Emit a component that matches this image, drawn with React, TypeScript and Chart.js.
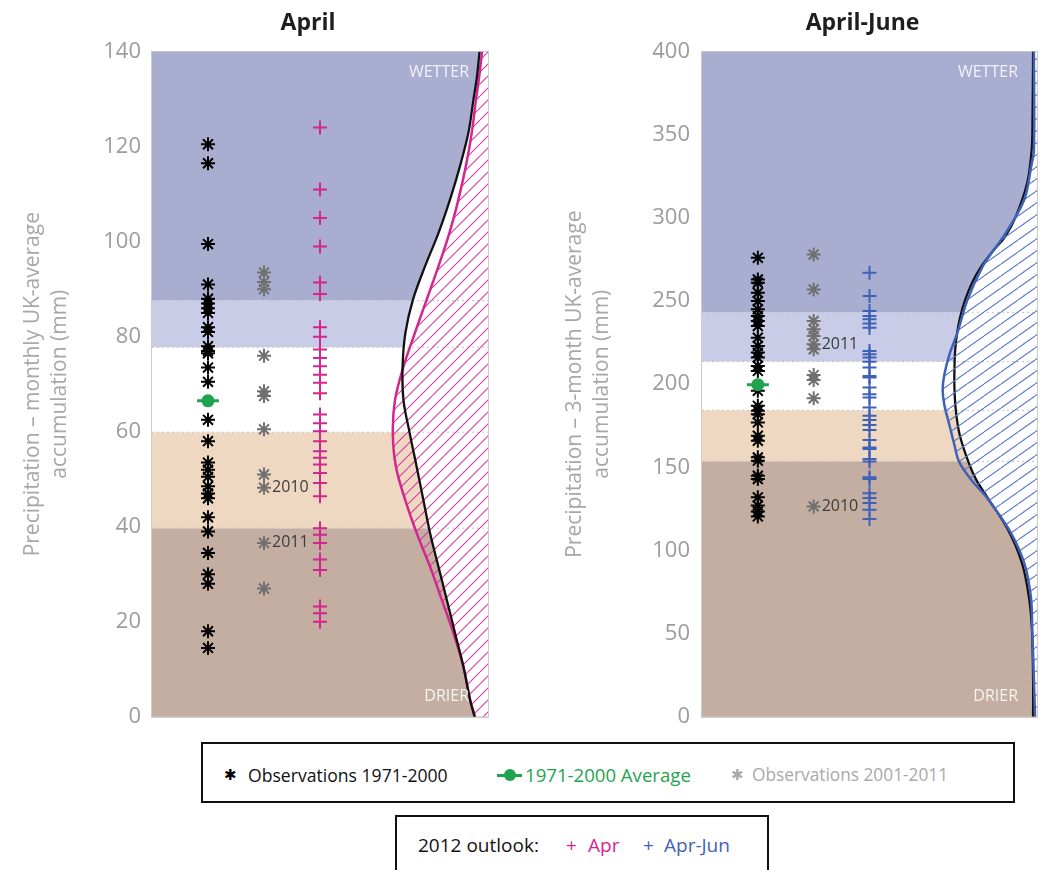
import React, { useEffect, useRef } from 'react';
import { Chart, registerables } from 'chart.js';
Chart.register(...registerables);

const FONT = "'Open Sans', 'DejaVu Sans', sans-serif";
Chart.defaults.font.family = FONT;

// hidden x scale: column positions
const COL_OBS = 2;
const COL_RECENT = 4;
const COL_OUTLOOK = 6;
const X_MAX = 12;

// ---------- April ----------
const aprObs = [120.5, 116.5, 99.5, 91, 88, 87, 86, 85, 82, 81, 78, 77, 76.5, 73.5, 70.5, 62.5, 58, 53.5, 52, 50.5, 48.5, 47, 46, 42, 39, 34.5, 30, 28, 18, 14.5];
const aprAvg = 66.5;
const aprRecent = [93.5, 91.5, 90, 76, 68.5, 67.5, 60.5, 51, 48.2, 36.6, 27];
const aprLabelYears = ['2010', '2011'];
const aprLabelValues = [48.2, 36.6];
const aprOutlook = [124, 111, 105, 99, 91.4, 89, 82, 80, 77.3, 75.5, 73.8, 72, 70.3, 68.1, 63.6, 61.8, 60.1, 58, 55.9, 54.5, 53.1, 51.3, 49.2, 46.4, 39.7, 38.3, 36.6, 33.1, 30.9, 23.2, 21.8, 20];
const aprBandEdges = [0, 39.7, 59.9, 77.8, 87.6, 140];
const aprClimMm = [0, 3.6, 10.6, 17.7, 24.6, 31.6, 38.7, 45.7, 52.7, 59.8, 66.7, 73.7, 80.8, 87.8, 94.8, 101.8, 108.8, 115.9, 122.9, 129.9, 134.5, 140];
const aprClimX = [11.52, 11.36, 11.12, 10.82, 10.53, 10.23, 9.93, 9.69, 9.45, 9.2, 8.98, 8.95, 9.05, 9.32, 9.75, 10.23, 10.64, 11.0, 11.3, 11.48, 11.6, 11.7];
const aprFcstMm = [0, 3.6, 10.6, 17.7, 24.6, 31.6, 38.7, 45.7, 52.7, 59.8, 66.7, 73.7, 80.8, 87.8, 94.8, 101.8, 108.8, 115.9, 122.9, 129.9, 134.5, 140];
const aprFcstX = [11.54, 11.36, 11.12, 10.76, 10.35, 9.93, 9.45, 9.04, 8.71, 8.6, 8.68, 8.98, 9.39, 9.81, 10.23, 10.62, 10.94, 11.21, 11.42, 11.57, 11.68, 11.79];

// ---------- April-June ----------
const jjaObs = [276, 263, 261, 255, 250, 245, 241, 238, 235, 228, 223, 219, 216, 211, 208, 196, 187, 184, 182, 177, 169, 166, 156, 154, 145, 143, 132, 127, 123.5, 120.5];
const jjaAvg = 199.7;
const jjaRecent = [278, 257, 238, 233, 229, 224, 221, 205.5, 202.5, 191.5, 126.5];
const jjaLabelYears = ['2011', '2010'];
const jjaLabelValues = [224, 126.5];
const jjaOutlook = [267, 253, 244, 241, 239, 236.5, 234, 220, 218, 216, 213.5, 210, 205, 204, 198, 194, 192, 186, 181, 178.5, 175.5, 172.5, 166.5, 162, 161, 155, 153.5, 144, 143, 134.5, 131.5, 128.5, 124.5, 119];
const jjaBandEdges = [0, 153.6, 184.3, 213.6, 243.2, 400];
const jjaClimMm = [0, 22.3, 52.3, 72.2, 92.6, 112.5, 132.3, 142.6, 153.4, 169.6, 184.7, 199.7, 213.5, 220.8, 231.0, 240.6, 250.8, 261.1, 270.7, 280.9, 288.7, 300.8, 321.2, 341.1, 359.1, 400];
const jjaClimX = [11.86, 11.86, 11.82, 11.71, 11.46, 10.96, 10.21, 9.82, 9.54, 9.23, 9.09, 9.04, 9.05, 9.07, 9.14, 9.25, 9.43, 9.68, 10.0, 10.46, 10.86, 11.24, 11.65, 11.81, 11.84, 11.86];
const jjaFcstMm = [0, 22.3, 52.3, 72.2, 92.6, 112.5, 132.3, 142.6, 153.4, 163.6, 175.6, 187.7, 196.7, 205.7, 217.7, 231.0, 250.8, 270.7, 280.9, 291.1, 310.9, 330.8, 341.1, 400];
const jjaFcstX = [11.93, 11.89, 11.83, 11.78, 11.54, 11.0, 10.18, 9.64, 9.21, 9.04, 8.86, 8.68, 8.62, 8.68, 8.86, 9.15, 9.51, 10.05, 10.46, 10.89, 11.54, 11.79, 11.89, 11.89];

const BAND_COLORS = ['#c3aea1', '#eed8c1', '#ffffff', '#c9cce7', '#a9aed1'];
const FRAME = '#cccccc';
const GREEN = '#1fa34f';
const MAGENTA = '#d3268f';
const BLUE = '#3f62b8';

type PanelCfg = {
  title: string;
  yTitle: string[];
  yMax: number;
  yStep: number;
  yAxisWidth: number;
  rightWidth: number;
  tickPad: number;
  bandEdges: number[];
  obs: number[];
  avg: number;
  recent: number[];
  outlook: number[];
  outlookColor: string;
  hatchColor: string;
  hatchW: number;
  hatchH: number;
  climMm: number[];
  climX: number[];
  fcstMm: number[];
  fcstX: number[];
  fcstOnTop: boolean;
  labelYears: string[];
  labelValues: number[];
};

function makeHatch(color: string, w: number, h: number) {
  const c = document.createElement('canvas');
  c.width = w;
  c.height = h;
  const g = c.getContext('2d')!;
  g.strokeStyle = color;
  g.lineWidth = 1.1;
  g.beginPath();
  g.moveTo(0, h); g.lineTo(w, 0);
  g.moveTo(-w, h); g.lineTo(0, 0);
  g.moveTo(w, h); g.lineTo(2 * w, 0);
  g.stroke();
  return g.createPattern(c, 'repeat')!;
}

const panelText = {
  id: 'panelText',
  afterDatasetsDraw(chart: any, _args: any, opts: any) {
    const { ctx, chartArea, scales } = chart;
    ctx.save();
    ctx.textBaseline = 'middle';
    ctx.textAlign = 'left';
    ctx.font = `16px ${FONT}`;
    ctx.fillStyle = '#3c3c3c';
    (opts.years as string[]).forEach((yr, i) => {
      const x = scales.x.getPixelForValue(COL_RECENT) + 8;
      const y = scales.y.getPixelForValue(opts.values[i]);
      ctx.fillText(yr, x, y);
    });
    ctx.fillStyle = 'rgba(255,255,255,0.85)';
    ctx.font = `16px ${FONT}`;
    ctx.textAlign = 'right';
    ctx.fillText('WETTER', chartArea.right - 19, chartArea.top + 21);
    ctx.fillText('DRIER', chartArea.right - 19, chartArea.bottom - 20);
    ctx.restore();
  },
};

function buildConfig(cfg: PanelCfg): any {
  const hatch = makeHatch(cfg.hatchColor, cfg.hatchW, cfg.hatchH);
  const datasets: any[] = [];
  for (let i = 0; i < cfg.bandEdges.length - 1; i++) {
    datasets.push({
      type: 'line',
      data: [{ x: 0, y: cfg.bandEdges[i] }, { x: X_MAX, y: cfg.bandEdges[i] }],
      fill: { value: cfg.bandEdges[i + 1] },
      backgroundColor: BAND_COLORS[i],
      borderColor: 'rgba(0,0,0,0)',
      borderWidth: 0,
      pointRadius: 0,
      order: 100 - i,
    });
  }
  const clim = cfg.climMm.map((m, i) => ({ x: cfg.climX[i], y: m }));
  const fcst = cfg.fcstMm.map((m, i) => ({ x: cfg.fcstX[i], y: m }));
  const curve = { type: 'line', indexAxis: 'y', pointRadius: 0, tension: 0.35 };
  datasets.push({
    ...curve, data: clim, fill: 'end',
    backgroundColor: '#ffffff', borderColor: 'rgba(0,0,0,0)', borderWidth: 0, order: 90,
  });
  for (let i = 1; i < cfg.bandEdges.length - 1; i++) {
    datasets.push({
      type: 'line',
      data: [{ x: 0, y: cfg.bandEdges[i] }, { x: X_MAX, y: cfg.bandEdges[i] }],
      fill: false, borderColor: '#c4c4c4', borderWidth: 1, borderDash: [2, 3],
      pointRadius: 0, order: 80,
    });
  }
  datasets.push({
    ...curve, data: fcst, fill: 'end',
    backgroundColor: hatch, borderColor: cfg.outlookColor, borderWidth: 2.5,
    order: cfg.fcstOnTop ? 55 : 70,
  });
  datasets.push({
    ...curve, data: clim, fill: false,
    borderColor: '#111111', borderWidth: 2.3, order: 60,
  });
  datasets.push({
    type: 'scatter', data: cfg.obs.map((v) => ({ x: COL_OBS, y: v })),
    pointStyle: 'star', pointRadius: 7, borderWidth: 2, borderColor: '#000000', order: 20,
  });
  datasets.push({
    type: 'scatter', data: [{ x: COL_OBS, y: cfg.avg }],
    pointStyle: 'line', pointRadius: 11, borderWidth: 3, borderColor: GREEN, order: 12,
  });
  datasets.push({
    type: 'scatter', data: [{ x: COL_OBS, y: cfg.avg }],
    pointStyle: 'circle', pointRadius: 6.5, borderWidth: 0, borderColor: GREEN, backgroundColor: GREEN, order: 11,
  });
  datasets.push({
    type: 'scatter', data: cfg.recent.map((v) => ({ x: COL_RECENT, y: v })),
    pointStyle: 'star', pointRadius: 7, borderWidth: 2, borderColor: '#707070', order: 19,
  });
  datasets.push({
    type: 'scatter', data: cfg.outlook.map((v) => ({ x: COL_OUTLOOK, y: v })),
    pointStyle: 'cross', pointRadius: 7, borderWidth: 2, borderColor: cfg.outlookColor, order: 18,
  });

  const hiddenX = (pos: string) => ({
    type: 'linear', axis: 'x', position: pos, min: 0, max: X_MAX,
    ticks: { display: false }, grid: { display: false, drawTicks: false },
    border: { display: true, color: FRAME, width: 2 },
    afterFit: (s: any) => { s.height = 0; },
  });

  return {
    type: 'scatter',
    data: { datasets },
    options: {
      animation: false,
      responsive: true,
      maintainAspectRatio: false,
      events: [],
      layout: { padding: 0 },
      plugins: {
        legend: { display: false },
        tooltip: { enabled: false },
        title: {
          display: true, text: cfg.title, color: '#1e1e1e',
          font: { size: 23, weight: 'bold' }, padding: { top: 10, bottom: 14 },
        },
        panelText: { years: cfg.labelYears, values: cfg.labelValues },
      },
      scales: {
        x: hiddenX('bottom'),
        xTop: hiddenX('top'),
        y: {
          type: 'linear', position: 'left', min: 0, max: cfg.yMax,
          ticks: { stepSize: cfg.yStep, color: '#9c9c9c', font: { size: 22 }, padding: cfg.tickPad },
          grid: { display: false, drawTicks: false },
          border: { display: true, color: FRAME, width: 2 },
          title: {
            display: true, text: cfg.yTitle, color: '#a7a7a7',
            font: { size: 21, lineHeight: 1.29 }, padding: { top: 19.5, bottom: 0 },
          },
          afterFit: (s: any) => { s.width = cfg.yAxisWidth; },
        },
        yRight: {
          type: 'linear', axis: 'y', position: 'right', min: 0, max: cfg.yMax,
          ticks: { display: false }, grid: { display: false, drawTicks: false },
          border: { display: true, color: FRAME, width: 2 },
          afterFit: (s: any) => { s.width = cfg.rightWidth; },
        },
      },
    },
    plugins: [panelText],
  };
}

const aprCfg: PanelCfg = {
  title: 'April',
  yTitle: ['Precipitation – monthly UK-average', 'accumulation (mm)'],
  yMax: 140, yStep: 20, yAxisWidth: 152, rightWidth: 128, tickPad: 11,
  bandEdges: aprBandEdges, obs: aprObs, avg: aprAvg, recent: aprRecent, outlook: aprOutlook,
  outlookColor: MAGENTA, hatchColor: '#d93aa0', hatchW: 12, hatchH: 12,
  climMm: aprClimMm, climX: aprClimX, fcstMm: aprFcstMm, fcstX: aprFcstX, fcstOnTop: false,
  labelYears: aprLabelYears, labelValues: aprLabelValues,
};

const jjaCfg: PanelCfg = {
  title: 'April-June',
  yTitle: ['Precipitation – 3-month UK-average', 'accumulation (mm)'],
  yMax: 400, yStep: 50, yAxisWidth: 160, rightWidth: 146, tickPad: 12,
  bandEdges: jjaBandEdges, obs: jjaObs, avg: jjaAvg, recent: jjaRecent, outlook: jjaOutlook,
  outlookColor: BLUE, hatchColor: '#5c7bc6', hatchW: 17, hatchH: 12,
  climMm: jjaClimMm, climX: jjaClimX, fcstMm: jjaFcstMm, fcstX: jjaFcstX, fcstOnTop: true,
  labelYears: jjaLabelYears, labelValues: jjaLabelValues,
};

function Panel({ cfg, left, width, height }: { cfg: PanelCfg; left: number; width: number; height: number }) {
  const ref = useRef<HTMLCanvasElement | null>(null);
  useEffect(() => {
    if (!ref.current) return;
    const chart = new Chart(ref.current, buildConfig(cfg));
    return () => chart.destroy();
  }, [cfg]);
  return (
    <div style={{ position: 'absolute', left, top: 0, width, height }}>
      <canvas ref={ref} />
    </div>
  );
}

const itemStyle: React.CSSProperties = {
  position: 'absolute', top: 'calc(50% + 2px)', transform: 'translateY(-50%)', whiteSpace: 'nowrap', lineHeight: '22px',
};

export default function App() {
  return (
    <div style={{ position: 'absolute', left: 0, top: 0, width: 1047, height: 870, overflow: 'hidden', background: '#ffffff', fontFamily: FONT }}>
      <Panel cfg={aprCfg} left={0} width={616} height={741} />
      <Panel cfg={jjaCfg} left={542} width={641} height={742} />
      <div style={{ position: 'absolute', left: 201, top: 742, width: 814, height: 61, border: '2px solid #111', boxSizing: 'border-box', fontSize: 17.6 }}>
        <span style={{ ...itemStyle, left: 21, color: '#000', fontSize: 15, fontFamily: "'DejaVu Sans', sans-serif" }}>✱</span>
        <span style={{ ...itemStyle, left: 45, color: '#111' }}>Observations 1971-2000</span>
        <span style={{ ...itemStyle, left: 294, width: 25, height: 12 }}>
          <span style={{ position: 'absolute', left: 0, top: 5, width: 25, height: 3, background: GREEN }} />
          <span style={{ position: 'absolute', left: 6.5, top: 0, width: 12, height: 12, borderRadius: 6, background: GREEN }} />
        </span>
        <span style={{ ...itemStyle, left: 322, color: GREEN, fontSize: 18.6 }}>1971-2000 Average</span>
        <span style={{ ...itemStyle, left: 528, color: '#a9a9a9', fontSize: 15, fontFamily: "'DejaVu Sans', sans-serif" }}>✱</span>
        <span style={{ ...itemStyle, left: 549, color: '#a9a9a9', fontSize: 17.3 }}>Observations 2001-2011</span>
      </div>
      <div style={{ position: 'absolute', left: 395, top: 815, width: 374, height: 70, border: '2px solid #111', boxSizing: 'border-box', fontSize: 19 }}>
        <span style={{ ...itemStyle, top: 28, left: 21, color: '#111' }}>2012 outlook:</span>
        <span style={{ ...itemStyle, top: 28, left: 169, color: MAGENTA }}>+</span>
        <span style={{ ...itemStyle, top: 28, left: 191, color: MAGENTA }}>Apr</span>
        <span style={{ ...itemStyle, top: 28, left: 246, color: BLUE }}>+</span>
        <span style={{ ...itemStyle, top: 28, left: 267, color: BLUE }}>Apr-Jun</span>
      </div>
    </div>
  );
}
